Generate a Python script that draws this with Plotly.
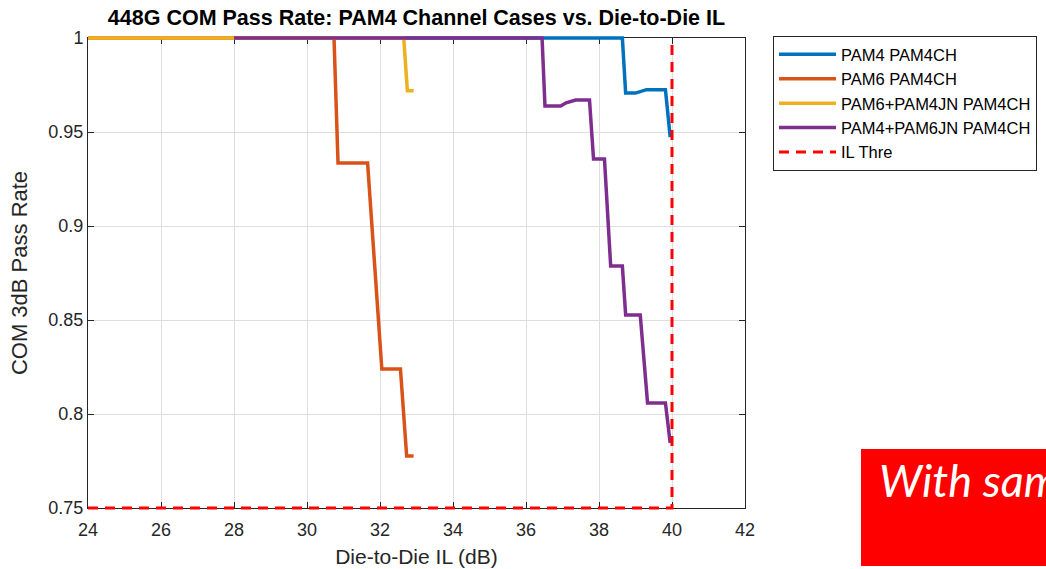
import plotly.graph_objects as go

# Die-to-die insertion loss (dB) and COM 3dB pass rate for each case
il_pam4 = [28, 38.64, 38.73, 39.0, 39.3, 39.82, 39.95]
pr_pam4 = [1, 1, 0.9707, 0.9707, 0.9725, 0.9725, 0.9473]

il_pam6 = [24, 30.74, 30.85, 31.66, 32.05, 32.56, 32.73, 32.92]
pr_pam6 = [1, 1, 0.9335, 0.9335, 0.824, 0.824, 0.7777, 0.7777]

il_pam6_jn = [24, 32.65, 32.75, 32.92]
pr_pam6_jn = [1, 1, 0.972, 0.972]

il_pam4_jn = [28, 36.44, 36.52, 36.95, 37.1, 37.36, 37.74, 37.85, 38.15,
              38.32, 38.64, 38.73, 39.13, 39.33, 39.82, 39.95]
pr_pam4_jn = [1, 1, 0.9638, 0.9638, 0.9655, 0.967, 0.967, 0.9356, 0.9356,
              0.8787, 0.8787, 0.8527, 0.8527, 0.8059, 0.8059, 0.7846]

il_thre = [24, 40, 40]
pr_thre = [0.75, 0.75, 1]

x_ticks = [24, 26, 28, 30, 32, 34, 36, 38, 40, 42]
y_ticks = [0.75, 0.8, 0.85, 0.9, 0.95, 1]
y_ticktext = ["0.75", "0.8", "0.85", "0.9", "0.95", "1"]
x_range = [24, 42]
y_range = [0.75, 1]

series = [
    ("PAM4 PAM4CH", il_pam4, pr_pam4, "#0072BD"),
    ("PAM6 PAM4CH", il_pam6, pr_pam6, "#D95319"),
    ("PAM6+PAM4JN PAM4CH", il_pam6_jn, pr_pam6_jn, "#EDB120"),
    ("PAM4+PAM6JN PAM4CH", il_pam4_jn, pr_pam4_jn, "#7E2F8E"),
]

FONT = "Liberation Sans, Arial, Helvetica, sans-serif"
AXIS_COLOR = "#262626"

# Page geometry: the framed axes sit inside a slightly larger data layer so
# that curves lying on the frame edges are not clipped.
W, H = 1046, 569
PAD = 10
L, R, T, B = 88 - PAD, 301 - PAD, 38 - PAD, 61 - PAD
inner_w = W - L - R
inner_h = H - T - B
frame_w = inner_w - 2 * PAD
frame_h = inner_h - 2 * PAD
dx = PAD * (x_range[1] - x_range[0]) / frame_w
dy = PAD * (y_range[1] - y_range[0]) / frame_h


def px_x(px):
    return (px - L) / inner_w


def px_y(py):
    return (H - B - py) / inner_h


fig = go.Figure()
# Empty trace that carries the framed axes (grid, ticks, labels)
fig.add_trace(go.Scatter(
    x=[], y=[], mode="lines", showlegend=False, hoverinfo="skip",
    xaxis="x", yaxis="y",
))
for name, x, y, color in series:
    fig.add_trace(go.Scatter(
        x=x, y=y, mode="lines", name=name,
        line=dict(color=color, width=3.5),
        xaxis="x2", yaxis="y2",
    ))
fig.add_trace(go.Scatter(
    x=il_thre, y=pr_thre, mode="lines", name="IL Thre",
    line=dict(color="#FF0000", width=3, dash="10px,7px"),
    xaxis="x2", yaxis="y2",
))

axis_common = dict(
    showline=True, linecolor=AXIS_COLOR, linewidth=1, mirror="ticks",
    ticks="inside", ticklen=6, tickcolor=AXIS_COLOR, tickwidth=1,
    showgrid=True, gridcolor="#dedede", gridwidth=1,
    zeroline=False, automargin=False,
    tickfont=dict(family=FONT, size=18, color=AXIS_COLOR),
)

fig.update_layout(
    xaxis=dict(
        domain=[PAD / inner_w, 1 - PAD / inner_w], anchor="y",
        range=x_range, tickvals=x_ticks, ticklabelstandoff=5,
        title=dict(text="Die-to-Die IL (dB)", standoff=10,
                   font=dict(family=FONT, size=21, color=AXIS_COLOR)),
        **axis_common,
    ),
    yaxis=dict(
        domain=[PAD / inner_h, 1 - PAD / inner_h], anchor="x",
        range=y_range, tickvals=y_ticks, ticktext=y_ticktext,
        title=dict(text="COM 3dB Pass Rate", standoff=14,
                   font=dict(family=FONT, size=22, color=AXIS_COLOR)),
        **axis_common,
    ),
    xaxis2=dict(domain=[0, 1], anchor="y2", visible=False,
                range=[x_range[0] - dx, x_range[1] + dx]),
    yaxis2=dict(domain=[0, 1], anchor="x2", visible=False,
                range=[y_range[0] - dy, y_range[1] + dy]),
)

fig.update_layout(
    width=W, height=H,
    margin=dict(l=L, r=R, t=T, b=B, autoexpand=False),
    paper_bgcolor="white", plot_bgcolor="rgba(0,0,0,0)",
    font=dict(family=FONT, color=AXIS_COLOR),
    title=dict(
        text="<b>448G COM Pass Rate: PAM4 Channel Cases vs. Die-to-Die IL</b>",
        x=0.5, xref="paper", xanchor="center",
        y=1 - 17 / H, yref="container", yanchor="middle",
        font=dict(family=FONT, size=21.5, color="#000000"),
    ),
    legend=dict(
        x=px_x(773), y=px_y(36), xanchor="left", yanchor="top",
        bgcolor="white", bordercolor=AXIS_COLOR, borderwidth=1,
        font=dict(family=FONT, size=16.5, color="#000000"),
        itemwidth=57, traceorder="normal",
    ),
    showlegend=True,
)

# Red callout box at the lower right
fig.add_shape(
    type="rect", xref="paper", yref="paper",
    x0=px_x(861), x1=px_x(1200), y0=px_y(566), y1=px_y(449),
    fillcolor="#FF0000", line=dict(width=0), layer="above",
)
fig.add_annotation(
    text="<i>With same</i>", xref="paper", yref="paper",
    x=px_x(877), y=px_y(480), xanchor="left", yanchor="middle",
    showarrow=False,
    font=dict(family="Lato, Open Sans, sans-serif", size=45, color="white"),
)

fig.write_html("out.html")
